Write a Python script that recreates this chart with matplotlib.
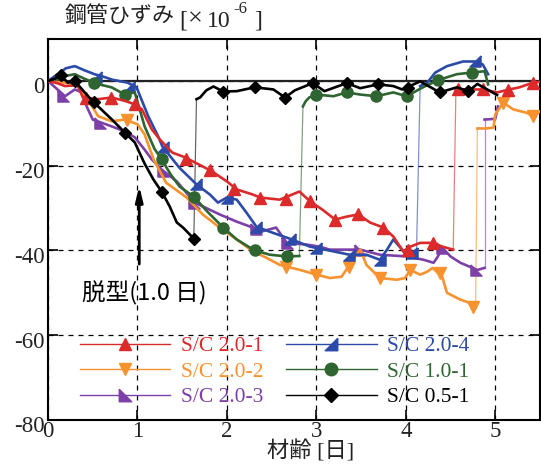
import matplotlib
matplotlib.use("Agg")
import matplotlib.pyplot as plt
from matplotlib.lines import Line2D
from matplotlib.transforms import ScaledTranslation

# --- data (age in days, strain x1e-6) ---
# each series: part before the sudden jump (x1/y1), part after (x2/y2), marker spots (mx/my)
red_x1 = [0, 0.1, 0.19, 0.33, 0.39, 0.56, 0.71, 0.86, 0.97, 1.05, 1.16, 1.25, 1.39, 1.53, 1.75, 1.83,
          2.0, 2.11, 2.29, 2.37, 2.59, 2.81, 2.93, 3.07, 3.21, 3.34, 3.47, 3.60, 3.75, 3.86, 3.97,
          4.05, 4.16, 4.30, 4.41, 4.53]
red_y1 = [0, -0.5, -1.2, -1.0, -3.9, -4.3, -3.9, -4.7, -5.5, -6.7, -11.4, -13.8, -16.9, -18.0, -20.4, -21.3,
          -23.7, -25.6, -26.8, -27.5, -28.0, -26.1, -28.4, -30.4, -32.7, -32.0, -31.5, -33.4, -34.6, -36.7, -40.2,
          -39.1, -38.2, -38.2, -39.1, -39.8]
red_x2 = [4.56, 4.70, 4.86, 5.02, 5.16, 5.27, 5.42, 5.5]
red_y2 = [-2.0, -2.0, -2.0, -2.7, -2.0, -1.5, -0.4, -0.2]
red_mx = [0.42, 0.70, 0.97, 1.54, 1.81, 2.08, 2.37, 2.66, 2.93, 3.21, 3.47, 3.75, 4.02, 4.30, 4.58, 4.86, 5.14, 5.42]
red_my = [-4.0, -3.9, -5.5, -18.5, -21.0, -25.5, -27.5, -27.8, -28.4, -32.7, -31.5, -34.6, -39.8, -38.2,
          -2.0, -2.0, -2.2, -0.4]

orange_x1 = [0, 0.1, 0.19, 0.33, 0.38, 0.49, 0.56, 0.71, 0.86, 1.0, 1.08, 1.18, 1.32, 1.55, 1.73, 1.92,
             2.11, 2.29, 2.44, 2.59, 2.82, 3.0, 3.15, 3.28, 3.36, 3.49, 3.56, 3.71, 3.90, 3.99, 4.05,
             4.16, 4.24, 4.30, 4.36, 4.40, 4.46, 4.61, 4.72, 4.78]
orange_y1 = [0, -0.2, -0.4, -0.8, -2.7, -5.9, -8.3, -9.5, -9.1, -10.2, -12.6, -18.5, -24.0, -27.5, -31.5, -34.6,
             -37.4, -40.2, -41.7, -43.4, -44.6, -45.7, -46.5, -46.2, -43.8, -39.8, -43.4, -46.5, -46.9, -46.5, -44.6,
             -45.7, -45.0, -44.1, -45.3, -45.7, -50.0, -51.6, -52.4, -53.5]
orange_x2 = [4.80, 4.90, 4.98, 5.0, 5.09, 5.2, 5.35, 5.42, 5.5]
orange_y2 = [-11.2, -11.2, -11.0, -7.9, -5.1, -6.7, -7.5, -8.3, -7.2]
orange_mx = [0.88, 2.66, 3.0, 3.36, 3.71, 4.05, 4.38, 4.75, 5.09, 5.42]
orange_my = [-9.3, -43.8, -45.7, -43.8, -46.5, -44.6, -45.3, -53.3, -5.1, -8.3]

purple_x1 = [0, 0.08, 0.19, 0.3, 0.38, 0.43, 0.50, 0.71, 0.86, 0.97, 1.08, 1.16, 1.27, 1.44, 1.64, 1.92,
             2.11, 2.29, 2.37, 2.55, 2.67, 2.89, 3.04, 3.15, 3.49, 3.71, 4.01, 4.2, 4.31, 4.35, 4.41,
             4.50, 4.61, 4.80, 4.88]
purple_y1 = [0, -1.5, -3.6, -2.0, -2.7, -5.9, -9.1, -10.7, -11.9, -13.3, -16.2, -18.5, -20.9, -23.7, -28.7, -31.5,
             -33.2, -34.6, -35.6, -34.6, -38.2, -38.6, -39.1, -39.8, -39.8, -41.0, -41.4, -42.2, -42.9, -41.7, -39.4,
             -41.4, -42.9, -44.6, -44.1]
purple_x2 = [4.88, 4.95, 5.0, 5.03]
purple_y2 = [-9.1, -9.0, -8.9, -6.0]
purple_mx = [0.17, 0.58, 1.29, 1.63, 2.33, 2.67, 3.49, 4.40, 4.78]
purple_my = [-3.6, -9.8, -21.3, -28.7, -35.0, -38.2, -39.8, -39.4, -44.6]

blue_x1 = [0, 0.1, 0.2, 0.3, 0.41, 0.52, 0.62, 0.72, 0.89, 0.99, 1.12, 1.23, 1.28, 1.47, 1.66, 1.81,
           1.90, 2.0, 2.11, 2.22, 2.33, 2.51, 2.70, 2.93, 3.0, 3.19, 3.37, 3.56, 3.71, 3.79, 3.86,
           3.93, 4.01, 4.07, 4.12]
blue_y1 = [0, 1.5, 3.0, 3.5, 2.5, 1.6, 1.0, 0.3, -0.4, -1.5, -8.3, -13.0, -15.5, -20.5, -24.4, -26.8,
           -28.7, -27.5, -28.0, -31.1, -34.4, -35.8, -37.2, -39.1, -39.4, -40.2, -41.0, -41.0, -42.2, -39.8, -37.4,
           -39.1, -41.0, -40.5, -39.8]
blue_x2 = [4.16, 4.24, 4.33, 4.46, 4.64, 4.77, 4.86, 4.92]
blue_y2 = [-1.2, -0.4, 2.0, 3.5, 4.6, 4.6, 3.9, 1.6]
blue_mx = [0.54, 0.91, 1.28, 1.66, 2.0, 2.33, 2.70, 3.0, 3.37, 3.71, 4.07, 4.77]
blue_my = [1.0, -1.5, -15.5, -24.4, -27.5, -34.4, -37.2, -39.4, -41.0, -42.2, -40.5, 4.6]

green_x1 = [0, 0.1, 0.2, 0.3, 0.41, 0.51, 0.61, 0.71, 0.86, 0.97, 1.08, 1.19, 1.27, 1.37, 1.47, 1.63,
            1.78, 1.96, 2.11, 2.31, 2.48, 2.67, 2.81]
green_y1 = [0, 0.5, 1.2, 1.6, 0.5, -0.4, -1.0, -1.5, -3.2, -2.7, -10.7, -16.0, -18.5, -22.0, -24.9, -27.3,
            -30.8, -34.6, -37.4, -40.0, -41.0, -41.4, -41.3]
green_x2 = [2.85, 2.88, 2.92, 3.0, 3.19, 3.34, 3.49, 3.67, 3.86, 4.01, 4.19, 4.36, 4.57, 4.74, 4.88, 4.92]
green_y2 = [-6.0, -4.8, -3.9, -3.2, -3.6, -2.7, -3.2, -3.6, -2.7, -3.6, -1.5, 0.2, 1.6, 2.0, 2.3, -0.8]
green_mx = [0.51, 0.86, 1.27, 1.63, 1.96, 2.31, 2.67, 3.0, 3.34, 3.67, 4.01, 4.36, 4.74]
green_my = [-0.4, -3.2, -18.5, -27.3, -34.6, -40.0, -41.4, -3.2, -2.7, -3.6, -3.6, 0.2, 2.0]

black_x1 = [0, 0.08, 0.15, 0.22, 0.30, 0.41, 0.51, 0.61, 0.71, 0.86, 0.97, 1.08, 1.18, 1.27, 1.36, 1.44,
            1.51, 1.63]
black_y1 = [0, 0.6, 1.3, -0.4, 0, -2.7, -5.0, -7.0, -9.0, -12.2, -14.5, -19.5, -23.3, -26.1, -29.6, -33.4,
            -34.6, -37.2]
black_x2 = [1.66, 1.70, 1.77, 1.85, 1.96, 2.11, 2.31, 2.52, 2.65, 2.76, 2.96, 3.09, 3.34, 3.49, 3.69, 3.86,
            3.96, 4.16, 4.38, 4.57, 4.70, 4.80, 5.02]
black_y2 = [-4.3, -3.9, -2.2, -1.3, -2.5, -2.4, -1.5, -2.0, -3.9, -2.2, -0.5, -2.4, -0.5, -1.7, -0.8, -1.2,
            -2.0, -0.1, -2.7, -1.5, -2.4, -0.7, -3.3]
black_mx = [0.15, 0.30, 0.51, 0.86, 1.27, 1.63, 1.96, 2.31, 2.65, 2.96, 3.34, 3.69, 4.02, 4.38, 4.70]
black_my = [1.3, 0, -5.0, -12.2, -26.1, -37.2, -2.5, -1.5, -3.9, -0.5, -0.5, -0.8, -1.6, -2.7, -2.4]

labels = ["S/C 2.0-1", "S/C 2.0-2", "S/C 2.0-3", "S/C 2.0-4", "S/C 1.0-1", "S/C 0.5-1"]
x_ticks = [0, 1, 2, 3, 4, 5]
y_ticks = [0, -20, -40, -60, -80]

# --- styles ---
SERIF = "Liberation Serif"
GOTHIC = "Noto Sans CJK JP"
JP = [SERIF, GOTHIC]
TXT = "#222222"
plt.rcParams["axes.unicode_minus"] = False

tri_bl = [(-1, 1), (-1, -1), (1, -1), (-1, 1)]   # right angle bottom-left
tri_br = [(1, 1), (1, -1), (-1, -1), (1, 1)]     # right angle bottom-right

series = [
    # x1, y1, x2, y2, mx, my, colour, marker, size
    (red_x1, red_y1, red_x2, red_y2, red_mx, red_my, "#DC2A2A", "^", 8),
    (orange_x1, orange_y1, orange_x2, orange_y2, orange_mx, orange_my, "#F7922F", "v", 8),
    (purple_x1, purple_y1, purple_x2, purple_y2, purple_mx, purple_my, "#7D40A8", tri_bl, 8),
    (blue_x1, blue_y1, blue_x2, blue_y2, blue_mx, blue_my, "#2C4BA8", tri_br, 8),
    (green_x1, green_y1, green_x2, green_y2, green_mx, green_my, "#2F6530", "o", 8),
    (black_x1, black_y1, black_x2, black_y2, black_mx, black_my, "black", "D", 6),
]

W, H = 541, 468
fig = plt.figure(figsize=(W / 100, H / 100), dpi=100)
ax = fig.add_axes([48 / W, 1 - 420 / H, 492 / W, 381.4 / H])

ax.axhline(0, color=TXT, lw=1.6, zorder=1.5)

draw_order = [2, 1, 3, 4, 0, 5]
for i in draw_order:
    x1, y1, x2, y2, mx, my, c, m, ms = series[i]
    z = 3 + draw_order.index(i) * 0.1
    ax.plot(x1, y1, color=c, lw=1.9, zorder=z)
    ax.plot(x2, y2, color=c, lw=1.9, zorder=z)
    # thin jump line
    ax.plot([x1[-1], x2[0]], [y1[-1], y2[0]], color=c, lw=0.9, alpha=0.6, zorder=2.5)
    ax.plot(mx, my, ls="none", marker=m, ms=ms, color=c, mec=c, zorder=z + 0.05)

handles = [Line2D([], [], color=s[6], lw=1.0, marker=s[7], ms=s[8] + 1, mec=s[6]) for s in series]

ax.set_xlim(0, 5.5)
ax.set_ylim(-80, 10)
ax.set_xticks(x_ticks)
ax.set_yticks(y_ticks)
ax.grid(True, color="black", ls=(0, (4, 4)), lw=0.9)
ax.set_axisbelow(True)
ax.tick_params(direction="in", length=7, width=1.2, top=True, right=True, labelsize=16.5)
ax.tick_params(axis="x", pad=1)
ax.tick_params(axis="y", pad=2.5)
for sp in ax.spines.values():
    sp.set_linewidth(1.5)
for lab in ax.get_xticklabels() + ax.get_yticklabels():
    lab.set_family(SERIF)
    lab.set_color(TXT)
for lab in ax.get_yticklabels():
    lab.set_transform(lab.get_transform() + ScaledTranslation(0, -0.045, fig.dpi_scale_trans))

ax.legend(handles, labels, ncol=2, loc="upper left", bbox_to_anchor=(0.065, 0.22),
          frameon=False, handlelength=4.2, handletextpad=0.5, columnspacing=1.05,
          labelspacing=0.25, borderpad=0, borderaxespad=0, labelcolor="linecolor",
          prop={"family": SERIF, "size": 15.5})

# demoulding arrow
ax.annotate("", xy=(1.02, -24.8), xytext=(1.02, -43.2),
            arrowprops=dict(arrowstyle="-|>,head_length=0.9,head_width=0.22", color="black",
                            lw=2, shrinkA=0, shrinkB=0))
ax.text(0.38, -50, "脱型(1.0 日)", family=[GOTHIC], fontsize=17, va="center")

# y-axis title, pieced together (mixed fonts, raised "-6")
fig.text(65 / W, 1 - 15.5 / H, "鋼管ひずみ", family=[GOTHIC], fontsize=15.8, va="center", color=TXT)
fig.text(179 / W, 1 - 27 / H, "[", family=SERIF, fontsize=17, va="baseline", color=TXT)
fig.text(188 / W, 1 - 19 / H, "×", family=SERIF, fontsize=19, va="center", color=TXT)
fig.text(207 / W, 1 - 27 / H, "10", family=SERIF, fontsize=17, va="baseline", color=TXT)
fig.text(233 / W, 1 - 13 / H, "-6", family=SERIF, fontsize=12, va="baseline", color=TXT)
fig.text(254 / W, 1 - 27 / H, "]", family=SERIF, fontsize=17, va="baseline", color=TXT)

fig.text(311 / W, 1 - 451 / H, "材齢 [日]", family=JP, fontsize=16,
         ha="center", va="center", color=TXT)

fig.savefig("out.png", dpi=100)
